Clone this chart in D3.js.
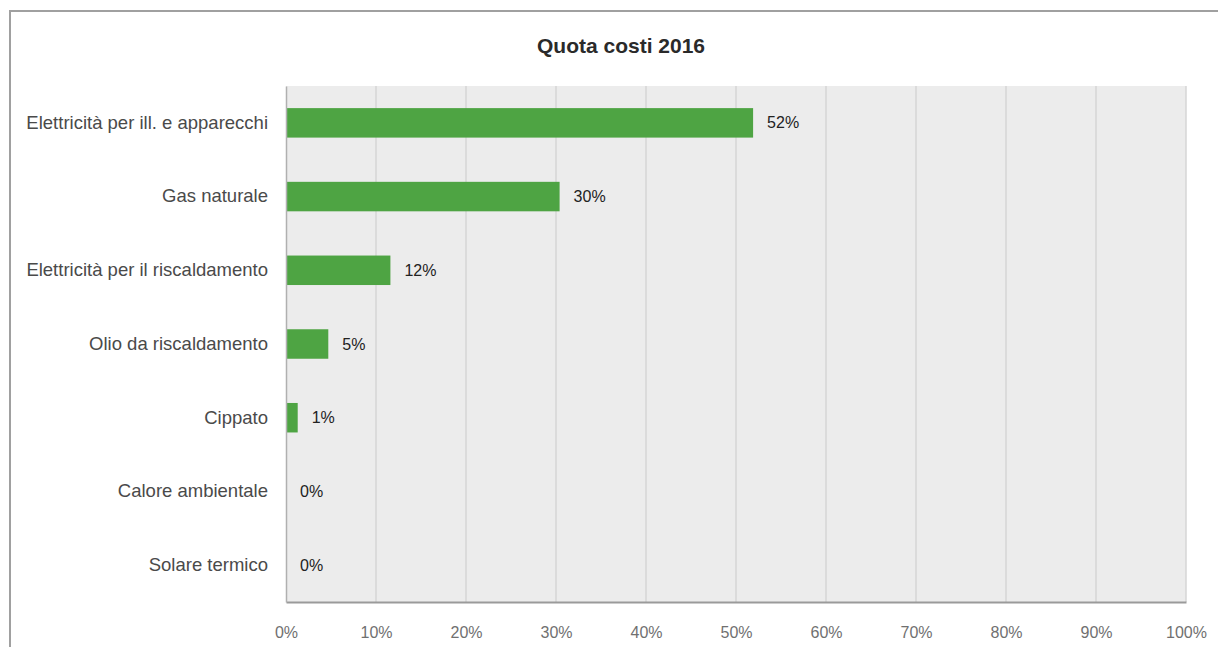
<!DOCTYPE html>
<html>
<head>
<meta charset="utf-8">
<script src="https://cdn.jsdelivr.net/npm/d3@7"></script>
<style>
  html, body { margin: 0; padding: 0; background: #fff; }
  svg { display: block; font-family: "Liberation Sans", Arial, sans-serif; }
</style>
</head>
<body>
<svg id="chart" width="1218" height="647"></svg>
<script>
// Quota costi 2016 — share of energy costs by carrier
const title = "Quota costi 2016";
const categories = [
  "Elettricità per ill. e apparecchi",
  "Gas naturale",
  "Elettricità per il riscaldamento",
  "Olio da riscaldamento",
  "Cippato",
  "Calore ambientale",
  "Solare termico"
];
const shares = [51.9, 30.4, 11.6, 4.7, 1.3, 0.0, 0.0];
const tickValues = [0, 10, 20, 30, 40, 50, 60, 70, 80, 90, 100];

const svg = d3.select("#chart");
const W = 1218, H = 647;
const plot = { left: 286, right: 1186, top: 86, bottom: 602 };

// outer frame
svg.append("path")
  .attr("d", `M10,${H} L10,11 L${W},11`)
  .attr("fill", "none")
  .attr("stroke", "#a0a0a0")
  .attr("stroke-width", 2);

const x = d3.scaleLinear().domain([0, 100]).range([plot.left, plot.right]);
const y = d3.scaleBand().domain(categories).range([plot.top, plot.bottom]).paddingInner(0.6).paddingOuter(0.3);

// plot background
svg.append("rect")
  .attr("x", plot.left).attr("y", plot.top)
  .attr("width", plot.right - plot.left).attr("height", plot.bottom - plot.top)
  .attr("fill", "#ececec");

// vertical gridlines
svg.append("g").selectAll("line")
  .data(tickValues.filter(d => d > 0))
  .join("line")
  .attr("x1", d => x(d)).attr("x2", d => x(d))
  .attr("y1", plot.top).attr("y2", plot.bottom)
  .attr("stroke", "#d6d6d6").attr("stroke-width", 1.5);

// bars
svg.append("g").selectAll("rect")
  .data(categories)
  .join("rect")
  .attr("x", x(0))
  .attr("y", d => y(d))
  .attr("width", (d, i) => x(shares[i]) - x(0))
  .attr("height", y.bandwidth())
  .attr("fill", "#4ea443");

// value labels
const fmt = v => d3.format(".0f")(v) + "%";
svg.append("g").selectAll("text")
  .data(categories)
  .join("text")
  .attr("x", (d, i) => x(shares[i]) + 14)
  .attr("y", d => y(d) + y.bandwidth() / 2)
  .attr("dy", "0.35em")
  .attr("font-size", 16)
  .attr("fill", "#222")
  .text((d, i) => fmt(shares[i]));

// axes
const xAxis = d3.axisBottom(x).tickValues(tickValues).tickFormat(d => d + "%").tickSize(0).tickPadding(25);
const gx = svg.append("g").attr("transform", `translate(0,${plot.bottom})`).call(xAxis);
gx.select(".domain").attr("stroke", "#9a9a9a").attr("stroke-width", 2);
gx.selectAll("text").attr("font-size", 16).attr("fill", "#707070").attr("font-family", "Liberation Sans, Arial, sans-serif");

const yAxis = d3.axisLeft(y).tickSize(0).tickPadding(18);
const gy = svg.append("g").attr("transform", `translate(${plot.left},0)`).call(yAxis);
gy.select(".domain").attr("stroke", "#b0b0b0").attr("stroke-width", 1.5);
gy.selectAll("text").attr("font-size", 18.5).attr("fill", "#4a4a4a").attr("font-family", "Liberation Sans, Arial, sans-serif");

// title
svg.append("text")
  .attr("x", 621).attr("y", 53)
  .attr("text-anchor", "middle")
  .attr("font-size", 21)
  .attr("font-weight", "bold")
  .attr("fill", "#2a2a2a")
  .text(title);
</script>
</body>
</html>
